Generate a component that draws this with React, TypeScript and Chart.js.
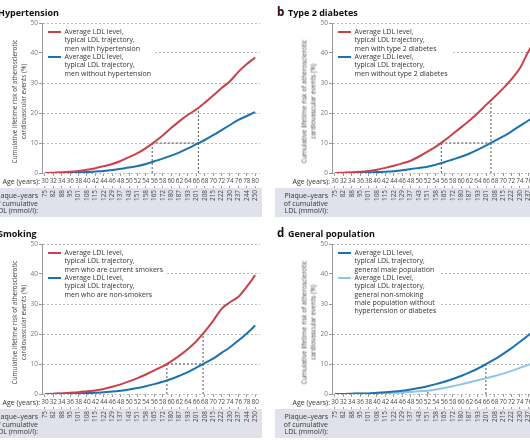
import React, { useEffect, useRef } from 'react';
import { Chart, registerables } from 'chart.js';

Chart.register(...registerables);

// ---------- data ----------
const ages = [30, 32, 34, 36, 38, 40, 42, 44, 46, 48, 50, 52, 54, 56, 58, 60, 62, 64, 66, 68, 70, 72, 74, 76, 78, 80];
const plaqueYears = [75, 82, 88, 95, 101, 108, 115, 122, 129, 137, 143, 151, 158, 165, 172, 180, 187, 193, 201, 208, 215, 222, 230, 237, 244, 250];
const riskTicks = [0, 10, 20, 30, 40, 50];

const hypertensionYes = [0, 0.1, 0.2, 0.4, 0.7, 1.1, 1.6, 2.3, 3.0, 4.0, 5.3, 6.6, 8.3, 10.3, 12.5, 15.0, 17.3, 19.4, 21.2, 23.4, 25.8, 28.3, 30.6, 33.7, 36.3, 38.5];
const hypertensionNo = [0, 0, 0.1, 0.1, 0.2, 0.3, 0.5, 0.7, 1.0, 1.4, 1.8, 2.3, 3.0, 3.9, 4.8, 5.8, 6.9, 8.2, 9.6, 11.0, 12.6, 14.3, 16.0, 17.7, 19.0, 20.3];
const diabetesYes = [0, 0.1, 0.2, 0.4, 0.7, 1.1, 1.7, 2.4, 3.2, 4.1, 5.5, 7.1, 8.8, 10.8, 13.0, 15.2, 17.5, 20.0, 22.8, 25.4, 28.2, 31.3, 35.0, 40.5, 45.0, 49.0];
const diabetesNo = [0, 0, 0.1, 0.1, 0.2, 0.3, 0.4, 0.6, 0.9, 1.3, 1.7, 2.1, 2.8, 3.6, 4.5, 5.4, 6.5, 7.8, 9.2, 10.7, 12.2, 13.9, 15.7, 17.5, 19.4, 21.3];
const smokersYes = [0, 0.1, 0.2, 0.4, 0.6, 0.9, 1.2, 1.7, 2.4, 3.2, 4.2, 5.3, 6.5, 7.9, 9.2, 10.9, 12.8, 15.0, 17.6, 20.8, 24.4, 28.4, 30.6, 32.4, 35.8, 39.6];
const smokersNo = [0, 0, 0.1, 0.1, 0.2, 0.3, 0.4, 0.6, 0.8, 1.1, 1.5, 2.0, 2.6, 3.3, 4.1, 5.0, 6.1, 7.3, 8.8, 10.3, 11.8, 13.7, 15.6, 17.8, 20.2, 22.8];
const generalMale = [0, 0, 0.1, 0.2, 0.2, 0.4, 0.6, 0.8, 1.1, 1.5, 2.0, 2.6, 3.3, 4.1, 5.0, 6.0, 7.2, 8.5, 10.0, 11.6, 13.4, 15.3, 17.4, 19.6, 21.9, 24.3];
const generalLowRisk = [0, 0, 0, 0.1, 0.1, 0.2, 0.3, 0.4, 0.5, 0.7, 0.9, 1.1, 1.5, 2.0, 2.6, 3.2, 3.9, 4.6, 5.3, 6.0, 6.8, 7.7, 8.7, 9.7, 10.8, 11.9];

// guide segments: [age1, risk1, age2, risk2]
const guidesA = [[55.5, 0, 55.5, 10], [55.5, 10, 66.5, 10], [66.5, 0, 66.5, 21.7]];
const guidesB = [[55.3, 0, 55.3, 10], [55.3, 10, 67.1, 10], [67.1, 0, 67.1, 24.2]];
const guidesC = [[59.0, 0, 59.0, 10], [59.0, 10, 67.6, 10], [67.6, 0, 67.6, 20.2]];
const guidesD = [[46.2, 0, 46.2, 1.2], [52.1, 0, 52.1, 1.1], [65.9, 0, 65.9, 10]];

// ---------- styles ----------
const FONT = '"Open Sans", "DejaVu Sans", sans-serif';
const RED = '#c8414b';
const BLUE = '#1b72ad';
const LIGHT = '#8fc5e8';
const BAND = '#dfe2ea';

type Series = { data: number[]; color: string };
type Entry = { color: string; lines: string[] };

function makeGuidePlugin(segs: number[][]) {
  return {
    id: 'guides',
    beforeDatasetsDraw(chart: any) {
      const { ctx } = chart;
      const xs = chart.scales.x;
      const ys = chart.scales.y;
      ctx.save();
      ctx.strokeStyle = '#555';
      ctx.lineWidth = 1;
      ctx.setLineDash([2, 2]);
      segs.forEach(([x1, y1, x2, y2]) => {
        ctx.beginPath();
        ctx.moveTo(xs.getPixelForValue(x1), ys.getPixelForValue(y1));
        ctx.lineTo(xs.getPixelForValue(x2), ys.getPixelForValue(y2));
        ctx.stroke();
      });
      ctx.restore();
    },
  };
}

const X_MIN = 29.3;
const X_MAX = 81.06;

function makeConfig(series: Series[], guides: number[][]): any {
  const setAgeTicks = (s: any) => {
    s.ticks = ages.map((v) => ({ value: v }));
  };
  return {
    type: 'line',
    data: {
      datasets: series.map((s) => ({
        data: ages.map((a, i) => ({ x: a, y: s.data[i] })),
        borderColor: s.color,
        borderWidth: 2,
        pointRadius: 0,
        fill: false,
        cubicInterpolationMode: 'monotone',
      })),
    },
    options: {
      animation: false,
      responsive: false,
      maintainAspectRatio: false,
      layout: { padding: { top: 23, right: 3, bottom: 3, left: 0 } },
      plugins: { legend: { display: false }, tooltip: { enabled: false }, title: { display: false } },
      scales: {
        x: {
          type: 'linear',
          position: 'bottom',
          weight: 0,
          min: X_MIN,
          max: X_MAX,
          afterBuildTicks: setAgeTicks,
          afterFit: (s: any) => {
            s.height = 13;
          },
          grid: { drawOnChartArea: false, drawTicks: true, tickLength: 3, color: '#9a9a9a' },
          border: { display: false },
          ticks: { autoSkip: false, maxRotation: 0, minRotation: 0, padding: 1, color: '#4a4a4a', font: { family: FONT, size: 6.4 } },
        },
        x2: {
          type: 'linear',
          position: 'bottom',
          weight: 1,
          min: X_MIN,
          max: X_MAX,
          afterBuildTicks: setAgeTicks,
          afterFit: (s: any) => {
            s.height = 31;
          },
          grid: { drawOnChartArea: false, drawTicks: true, tickLength: 2, color: '#9a9a9a' },
          border: { display: false },
          ticks: {
            autoSkip: false,
            minRotation: 90,
            maxRotation: 90,
            padding: 2,
            color: '#4a4a4a',
            font: { family: FONT, size: 6.4 },
            callback: (_v: any, i: number) => String(plaqueYears[i]),
          },
        },
        y: {
          type: 'linear',
          min: 0,
          max: 50,
          afterBuildTicks: (s: any) => {
            s.ticks = riskTicks.map((v) => ({ value: v }));
          },
          afterFit: (s: any) => {
            s.width = 42;
          },
          grid: { color: '#b8b8b8', lineWidth: 1, tickLength: 3, tickColor: '#999', tickBorderDash: [] },
          border: { display: true, color: '#999', width: 1, dash: [2, 2] },
          ticks: { padding: 1, color: '#777', font: { family: FONT, size: 6.5 } },
        },
      },
    },
    plugins: [makeGuidePlugin(guides)],
  };
}

function Panel(props: {
  dx: number;
  dy: number;
  letter: string;
  title: string;
  series: Series[];
  guides: number[][];
  legend: Entry[];
}) {
  const ref = useRef<HTMLCanvasElement>(null);
  useEffect(() => {
    const chart = new Chart(ref.current as HTMLCanvasElement, makeConfig(props.series, props.guides));
    return () => chart.destroy();
  }, []);
  const txt: React.CSSProperties = { position: 'absolute', fontFamily: FONT, whiteSpace: 'nowrap' };
  return (
    <div style={{ position: 'absolute', left: props.dx, top: props.dy, width: 265, height: 221 }}>
      <div style={{ position: 'absolute', left: -15, top: 188, width: 277, height: 29, background: BAND }} />
      <canvas ref={ref} width={265} height={220} style={{ position: 'absolute', left: 0, top: 0, width: 265, height: 220 }} />
      <div style={{ ...txt, left: -13, top: 5, fontSize: 11.5, lineHeight: '14px', fontWeight: 700, color: '#111' }}>{props.letter}</div>
      <div style={{ ...txt, left: -2, top: 6.5, fontSize: 9, lineHeight: '12px', fontWeight: 700, color: '#111' }}>{props.title}</div>
      <div
        style={{
          ...txt,
          left: 43,
          top: 28.2,
          background: '#fff',
          padding: '0 3px 1px 0',
          fontSize: 7,
          lineHeight: '8.3px',
          color: '#333',
        }}
      >
        {props.legend.map((e, k) => (
          <div key={k} style={{ position: 'relative', paddingLeft: 21.5 }}>
            <span style={{ position: 'absolute', left: 5, top: 3.2, width: 12.5, height: 2, background: e.color }} />
            {e.lines.map((l, j) => (
              <div key={j}>{l}</div>
            ))}
          </div>
        ))}
      </div>
      <div
        style={{
          ...txt,
          left: 19.25 - 80,
          top: 101 - 8.5,
          width: 160,
          height: 17,
          transform: 'rotate(-90deg)',
          transformOrigin: 'center',
          textAlign: 'center',
          fontSize: 6.4,
          lineHeight: '8.5px',
          color: '#444',
        }}
      >
        <div>Cumulative lifetime risk of atherosclerotic</div>
        <div>cardiovascular events (%)</div>
      </div>
      <div style={{ ...txt, left: -60, width: 100, top: 178, textAlign: 'right', fontSize: 7, lineHeight: '8px', color: '#333' }}>Age (years):</div>
      <div style={{ ...txt, left: -60, width: 98, top: 192, textAlign: 'right', fontSize: 7, lineHeight: '7.5px', color: '#333' }}>
        <div>Plaque–years</div>
        <div>of cumulative</div>
        <div>LDL (mmol/l):</div>
      </div>
    </div>
  );
}

export default function App() {
  return (
    <div style={{ position: 'fixed', left: 0, top: 0, width: 530, height: 442, overflow: 'hidden', background: '#fff' }}>
      <Panel
        dx={0}
        dy={0}
        letter="a"
        title="Hypertension"
        series={[
          { data: hypertensionYes, color: RED },
          { data: hypertensionNo, color: BLUE },
        ]}
        guides={guidesA}
        legend={[
          { color: RED, lines: ['Average LDL level,', 'typical LDL trajectory,', 'men with hypertension'] },
          { color: BLUE, lines: ['Average LDL level,', 'typical LDL trajectory,', 'men without hypertension'] },
        ]}
      />
      <Panel
        dx={290}
        dy={0}
        letter="b"
        title="Type 2 diabetes"
        series={[
          { data: diabetesYes, color: RED },
          { data: diabetesNo, color: BLUE },
        ]}
        guides={guidesB}
        legend={[
          { color: RED, lines: ['Average LDL level,', 'typical LDL trajectory,', 'men with type 2 diabetes'] },
          { color: BLUE, lines: ['Average LDL level,', 'typical LDL trajectory,', 'men without type 2 diabetes'] },
        ]}
      />
      <Panel
        dx={0}
        dy={221}
        letter="c"
        title="Smoking"
        series={[
          { data: smokersYes, color: RED },
          { data: smokersNo, color: BLUE },
        ]}
        guides={guidesC}
        legend={[
          { color: RED, lines: ['Average LDL level,', 'typical LDL trajectory,', 'men who are current smokers'] },
          { color: BLUE, lines: ['Average LDL level,', 'typical LDL trajectory,', 'men who are non-smokers'] },
        ]}
      />
      <Panel
        dx={290}
        dy={221}
        letter="d"
        title="General population"
        series={[
          { data: generalMale, color: BLUE },
          { data: generalLowRisk, color: LIGHT },
        ]}
        guides={guidesD}
        legend={[
          { color: BLUE, lines: ['Average LDL level,', 'typical LDL trajectory,', 'general male population'] },
          {
            color: LIGHT,
            lines: ['Average LDL level,', 'typical LDL trajectory,', 'general non-smoking', 'male population without', 'hypertension or diabetes'],
          },
        ]}
      />
    </div>
  );
}
